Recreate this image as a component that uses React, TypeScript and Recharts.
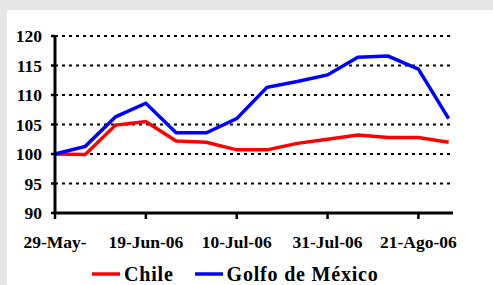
import React from 'react';
import { LineChart, Line, XAxis, YAxis, CartesianGrid, Legend } from 'recharts';

// days since 29-May-06, one point per week
const days = [0, 7, 14, 21, 28, 35, 42, 49, 56, 63, 70, 77, 84, 91];
const chile = [100, 99.9, 104.9, 105.5, 102.2, 102.0, 100.7, 100.7, 101.8, 102.5, 103.2, 102.8, 102.8, 102.0];
const golfo = [100, 101.3, 106.3, 108.6, 103.6, 103.6, 106.0, 111.3, 112.3, 113.4, 116.4, 116.6, 114.4, 106.0];

const xTicks = [0, 21, 42, 63, 84];
const xLabels = ['29-May-', '19-Jun-06', '10-Jul-06', '31-Jul-06', '21-Ago-06'];
const yTicks = [90, 95, 100, 105, 110, 115, 120];

const series = [
  { key: 'chile', name: 'Chile', color: '#ff0000' },
  { key: 'golfo', name: 'Golfo de México', color: '#0000ff' },
];

const data = days.map((d, i) => ({ day: d, chile: chile[i], golfo: golfo[i] }));

const font = 'Liberation Serif';

const LegendBox = () => (
  <div style={{ display: 'flex', alignItems: 'center', fontFamily: font, fontWeight: 700, fontSize: 20, letterSpacing: 0.8, color: '#000', lineHeight: '22px' }}>
    {series.map((s, i) => (
      <div key={s.key} style={{ display: 'flex', alignItems: 'center', marginRight: i === 0 ? 21 : 0 }}>
        <svg width={28} height={6} style={{ marginRight: 4 }}>
          <line x1={0} y1={3} x2={28} y2={3} stroke={s.color} strokeWidth={3.5} />
        </svg>
        <span>{s.name}</span>
      </div>
    ))}
  </div>
);

export default function App() {
  return (
    <div style={{ position: 'absolute', left: 0, top: 0, width: 493, height: 285, background: '#e6e6e6', overflow: 'hidden' }}>
      <div style={{ position: 'absolute', left: 7, top: 10, width: 486, height: 275, background: '#fff' }}>
        <LineChart width={486} height={275} data={data} margin={{ top: 26, right: 40, left: 0, bottom: 10 }}>
          <CartesianGrid horizontal vertical={false} stroke="#000" strokeWidth={2} strokeDasharray="3 4" />
          <XAxis
            dataKey="day"
            type="number"
            domain={[0, 92]}
            ticks={xTicks}
            tickFormatter={(v) => xLabels[xTicks.indexOf(v)]}
            axisLine={{ stroke: '#000', strokeWidth: 3 }}
            tickLine={{ stroke: '#000', strokeWidth: 2.5 }}
            tickSize={6}
            tickMargin={17}
            height={40}
            tick={{ fill: '#000', fontFamily: font, fontWeight: 700, fontSize: 17.5 }}
            interval={0}
          />
          <YAxis
            domain={[90, 120]}
            ticks={yTicks}
            axisLine={{ stroke: '#000', strokeWidth: 3 }}
            tickLine={{ stroke: '#000', strokeWidth: 2.5 }}
            tickSize={4}
            tickMargin={9}
            width={48}
            tick={{ fill: '#000', fontFamily: font, fontWeight: 700, fontSize: 17.5 }}
            interval={0}
          />
          <Legend
            content={<LegendBox />}
            wrapperStyle={{ position: 'absolute', left: 85, bottom: 0, width: 340, height: 22 }}
          />
          {series.map((s) => (
            <Line
              key={s.key}
              dataKey={s.key}
              name={s.name}
              stroke={s.color}
              strokeWidth={3.5}
              dot={false}
              type="linear"
              isAnimationActive={false}
            />
          ))}
        </LineChart>
      </div>
    </div>
  );
}
